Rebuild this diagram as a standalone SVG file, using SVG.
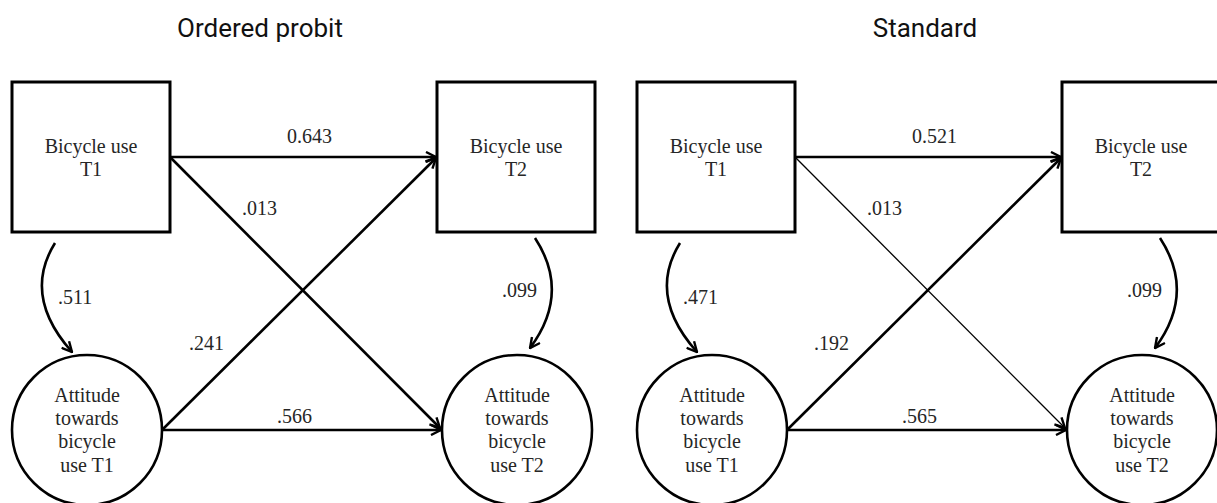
<svg xmlns="http://www.w3.org/2000/svg" width="1217" height="503" viewBox="0 0 1217 503">
<style>
.bg{fill:#ffffff}
.box{fill:#ffffff;stroke:#000;stroke-width:3}
.circ{fill:#ffffff;stroke:#000;stroke-width:2.6}
.ln{fill:none;stroke:#000;stroke-width:2.6}
.thin{fill:none;stroke:#000;stroke-width:1.3}
.t{font-family:"Liberation Serif","Times New Roman",serif;font-size:20px;fill:#262626}
.c{text-anchor:middle}
.title{font-family:Roboto,"Liberation Sans",sans-serif;font-size:26px;fill:#111;text-anchor:middle}
</style>
<defs>
<marker id="arr" viewBox="0 0 12 12" refX="11" refY="6" markerWidth="12" markerHeight="12" markerUnits="userSpaceOnUse" orient="auto">
<path d="M1,1 L11,6 L1,11" fill="none" stroke="#000" stroke-width="2.4"/>
</marker>
</defs>
<rect class="bg" x="0" y="0" width="1217" height="503"/>
<text class="title" x="260" y="37">Ordered probit</text>
<text class="title" x="925" y="37">Standard</text>

<g id="connectors-left">
<line class="ln" x1="170" y1="157" x2="436" y2="157" marker-end="url(#arr)"/>
<line class="ln" x1="170" y1="157" x2="440" y2="428" marker-end="url(#arr)"/>
<line class="ln" x1="162" y1="430" x2="436" y2="158" marker-end="url(#arr)"/>
<line class="ln" x1="162" y1="430" x2="441" y2="430" marker-end="url(#arr)"/>
<path class="ln" d="M55,243 Q22,296 72,352" marker-end="url(#arr)"/>
<path class="ln" d="M535,238 Q571,293 530,348" marker-end="url(#arr)"/>
<text class="t" x="287" y="143">0.643</text>
<text class="t" x="242" y="215">.013</text>
<text class="t" x="189" y="350">.241</text>
<text class="t" x="277" y="423">.566</text>
<text class="t" x="58" y="304">.511</text>
<text class="t" x="502" y="297">.099</text>
</g>

<g id="connectors-right">
<line class="ln" x1="795" y1="157" x2="1061" y2="157" marker-end="url(#arr)"/>
<line class="thin" x1="795" y1="157" x2="1065" y2="428" marker-end="url(#arr)"/>
<line class="ln" x1="787" y1="430" x2="1061" y2="158" marker-end="url(#arr)"/>
<line class="ln" x1="787" y1="430" x2="1066" y2="430" marker-end="url(#arr)"/>
<path class="ln" d="M680,243 Q647,296 697,352" marker-end="url(#arr)"/>
<path class="ln" d="M1160,238 Q1196,293 1155,348" marker-end="url(#arr)"/>
<text class="t" x="912" y="143">0.521</text>
<text class="t" x="867" y="215">.013</text>
<text class="t" x="814" y="350">.192</text>
<text class="t" x="902" y="423">.565</text>
<text class="t" x="683" y="304">.471</text>
<text class="t" x="1127" y="297">.099</text>
</g>

<g id="L-bike-t1">
<rect class="box" x="12" y="82" width="158" height="150"/>
<text class="t c" x="91" y="153">Bicycle use</text>
<text class="t c" x="91" y="176">T1</text>
</g>
<g id="L-bike-t2">
<rect class="box" x="437" y="82" width="158" height="150"/>
<text class="t c" x="516" y="153">Bicycle use</text>
<text class="t c" x="516" y="176">T2</text>
</g>
<g id="L-att-t1">
<circle class="circ" cx="87" cy="430" r="75"/>
<text class="t c" x="87" y="402">Attitude</text>
<text class="t c" x="87" y="425">towards</text>
<text class="t c" x="87" y="448">bicycle</text>
<text class="t c" x="87" y="472">use T1</text>
</g>
<g id="L-att-t2">
<circle class="circ" cx="517" cy="430" r="75"/>
<text class="t c" x="517" y="402">Attitude</text>
<text class="t c" x="517" y="425">towards</text>
<text class="t c" x="517" y="448">bicycle</text>
<text class="t c" x="517" y="472">use T2</text>
</g>

<g id="R-bike-t1">
<rect class="box" x="637" y="82" width="158" height="150"/>
<text class="t c" x="716" y="153">Bicycle use</text>
<text class="t c" x="716" y="176">T1</text>
</g>
<g id="R-bike-t2">
<rect class="box" x="1062" y="82" width="158" height="150"/>
<text class="t c" x="1141" y="153">Bicycle use</text>
<text class="t c" x="1141" y="176">T2</text>
</g>
<g id="R-att-t1">
<circle class="circ" cx="712" cy="430" r="75"/>
<text class="t c" x="712" y="402">Attitude</text>
<text class="t c" x="712" y="425">towards</text>
<text class="t c" x="712" y="448">bicycle</text>
<text class="t c" x="712" y="472">use T1</text>
</g>
<g id="R-att-t2">
<circle class="circ" cx="1142" cy="430" r="75"/>
<text class="t c" x="1142" y="402">Attitude</text>
<text class="t c" x="1142" y="425">towards</text>
<text class="t c" x="1142" y="448">bicycle</text>
<text class="t c" x="1142" y="472">use T2</text>
</g>
</svg>
